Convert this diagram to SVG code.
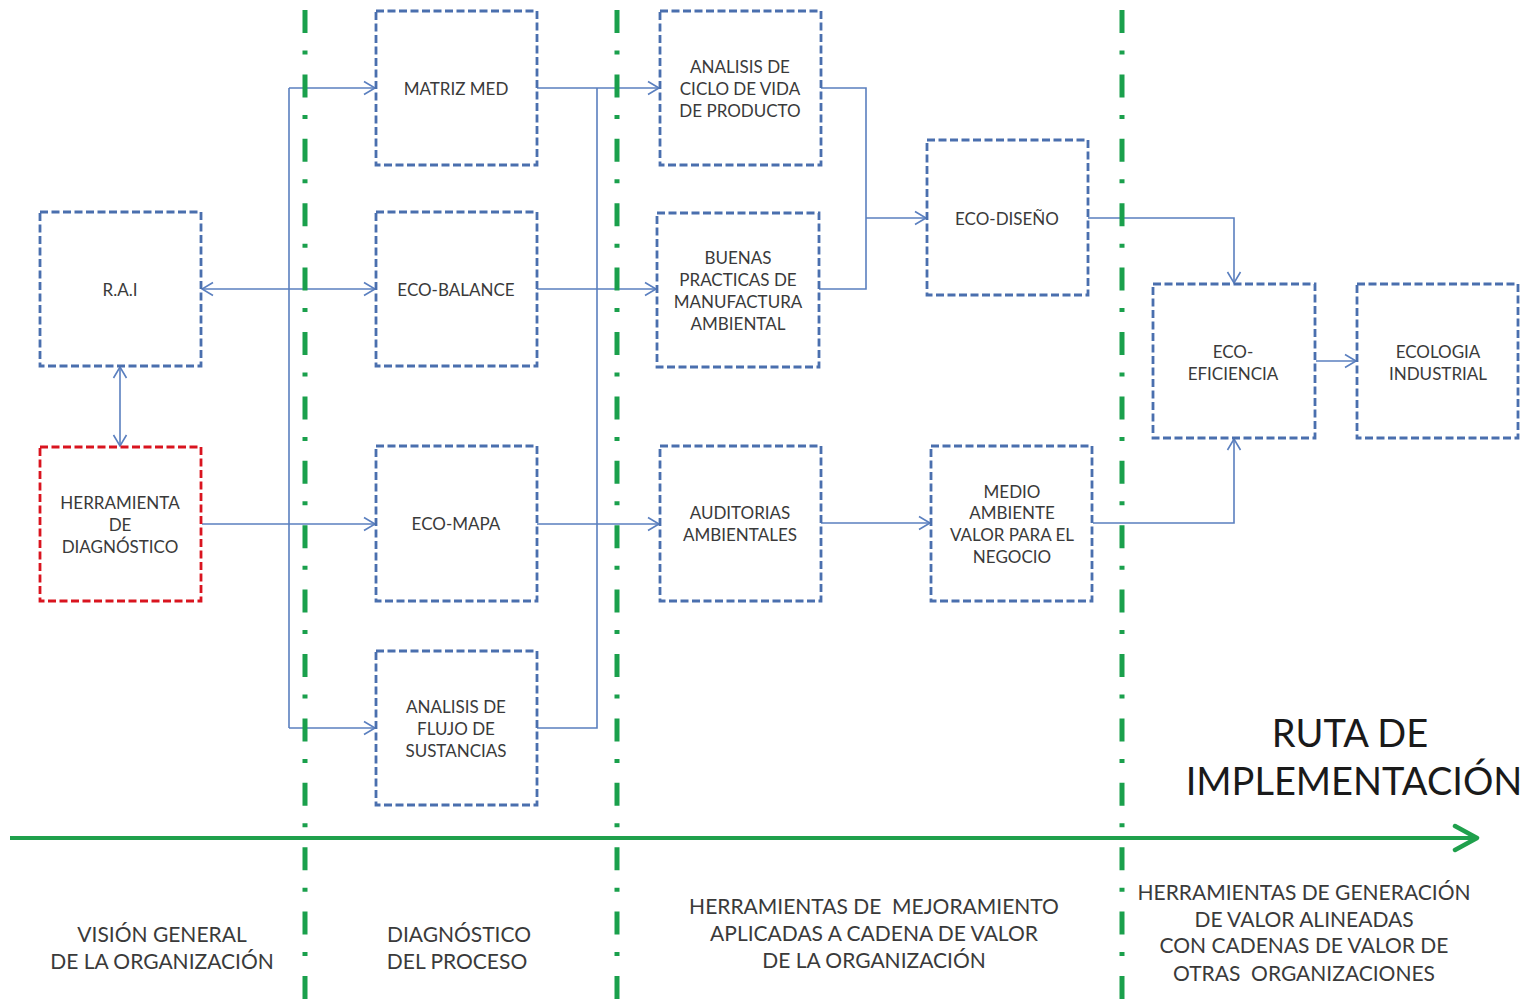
<svg xmlns="http://www.w3.org/2000/svg" width="1532" height="999" viewBox="0 0 1532 999">
<style>
.box{fill:#ffffff;stroke:#4a6fae;stroke-width:2.8;stroke-dasharray:8 3.5}
.red{stroke:#d9141f}
.lbl{font-family:Lato,"Open Sans",sans-serif;font-size:17px;fill:#3a3a3a;text-anchor:middle;dominant-baseline:central}
.cap{font-family:Lato,"Open Sans",sans-serif;font-size:21px;fill:#3a3a3a;text-anchor:middle}
.big{font-family:Lato,"Open Sans",sans-serif;font-size:38px;fill:#1a1a1a;text-anchor:middle}
.con{fill:none;stroke:#5a7fbf;stroke-width:1.6}
.sep{stroke:#1aa04c;stroke-width:5;stroke-dasharray:23 17.5 4 19.9;fill:none}
</style>
<defs>
<marker id="ah" markerUnits="userSpaceOnUse" markerWidth="14" markerHeight="16" viewBox="0 0 14 16" refX="12.5" refY="8" orient="auto-start-reverse">
<path d="M1.5,1.5 L12.5,8 L1.5,14.5" fill="none" stroke="#5a7fbf" stroke-width="1.6"/>
</marker>
<marker id="gh" markerUnits="userSpaceOnUse" markerWidth="30" markerHeight="30" viewBox="0 0 30 30" refX="25" refY="15" orient="auto">
<path d="M3,3 L25,15 L3,27" fill="none" stroke="#1fa04c" stroke-width="4.5" stroke-linecap="round" stroke-linejoin="round"/>
</marker>
</defs>
<rect width="1532" height="999" fill="#ffffff"/>

<g id="connectors">
<line class="con" x1="120" y1="367" x2="120" y2="446" marker-start="url(#ah)" marker-end="url(#ah)"/>
<line class="con" x1="202" y1="289" x2="375" y2="289" marker-start="url(#ah)" marker-end="url(#ah)"/>
<path class="con" d="M289,88 L289,728"/>
<line class="con" x1="289" y1="88" x2="375" y2="88" marker-end="url(#ah)"/>
<line class="con" x1="202" y1="524" x2="375" y2="524" marker-end="url(#ah)"/>
<line class="con" x1="289" y1="728" x2="375" y2="728" marker-end="url(#ah)"/>
<path class="con" d="M537,88 L597,88 M537,289 L597,289 M537,524 L597,524 M537,728 L597,728 L597,88"/>
<line class="con" x1="597" y1="88" x2="659" y2="88" marker-end="url(#ah)"/>
<line class="con" x1="597" y1="289" x2="656" y2="289" marker-end="url(#ah)"/>
<line class="con" x1="597" y1="524" x2="659" y2="524" marker-end="url(#ah)"/>
<path class="con" d="M821,88 L866,88 L866,289 L819,289"/>
<line class="con" x1="866" y1="218" x2="926" y2="218" marker-end="url(#ah)"/>
<line class="con" x1="821" y1="523" x2="930" y2="523" marker-end="url(#ah)"/>
<path class="con" d="M1088,218 L1234,218 L1234,283" marker-end="url(#ah)"/>
<path class="con" d="M1093,523 L1234,523 L1234,439" marker-end="url(#ah)"/>
<line class="con" x1="1316" y1="361" x2="1356" y2="361" marker-end="url(#ah)"/>
</g>

<g id="phases">
<line class="sep" x1="305" y1="10" x2="305" y2="999"/>
<line class="sep" x1="617" y1="10" x2="617" y2="999"/>
<line class="sep" x1="1122" y1="10" x2="1122" y2="999"/>
<line x1="10" y1="838" x2="1477" y2="838" stroke="#1fa04c" stroke-width="4" marker-end="url(#gh)"/>
</g>

<g id="rai">
<rect class="box" x="40" y="212" width="161" height="154"/>
<text class="lbl" x="120" y="289">R.A.I</text>
</g>
<g id="herramienta">
<rect class="box red" x="40" y="447" width="161" height="154"/>
<text class="lbl" x="120" y="502">HERRAMIENTA</text>
<text class="lbl" x="120" y="524">DE</text>
<text class="lbl" x="120" y="546">DIAGNÓSTICO</text>
</g>
<g id="matriz-med">
<rect class="box" x="376" y="11" width="161" height="154"/>
<text class="lbl" x="456" y="88">MATRIZ MED</text>
</g>
<g id="eco-balance">
<rect class="box" x="376" y="212" width="161" height="154"/>
<text class="lbl" x="456" y="289">ECO-BALANCE</text>
</g>
<g id="eco-mapa">
<rect class="box" x="376" y="446" width="161" height="155"/>
<text class="lbl" x="456" y="523">ECO-MAPA</text>
</g>
<g id="flujo">
<rect class="box" x="376" y="651" width="161" height="154"/>
<text class="lbl" x="456" y="706">ANALISIS DE</text>
<text class="lbl" x="456" y="728">FLUJO DE</text>
<text class="lbl" x="456" y="750">SUSTANCIAS</text>
</g>
<g id="ciclo-vida">
<rect class="box" x="660" y="11" width="161" height="154"/>
<text class="lbl" x="740" y="66">ANALISIS DE</text>
<text class="lbl" x="740" y="88">CICLO DE VIDA</text>
<text class="lbl" x="740" y="110">DE PRODUCTO</text>
</g>
<g id="buenas-practicas">
<rect class="box" x="657" y="213" width="162" height="154"/>
<text class="lbl" x="738" y="257">BUENAS</text>
<text class="lbl" x="738" y="279">PRACTICAS DE</text>
<text class="lbl" x="738" y="301">MANUFACTURA</text>
<text class="lbl" x="738" y="323">AMBIENTAL</text>
</g>
<g id="eco-diseno">
<rect class="box" x="927" y="140" width="161" height="155"/>
<text class="lbl" x="1007" y="218">ECO-DISEÑO</text>
</g>
<g id="auditorias">
<rect class="box" x="660" y="446" width="161" height="155"/>
<text class="lbl" x="740" y="512">AUDITORIAS</text>
<text class="lbl" x="740" y="534">AMBIENTALES</text>
</g>
<g id="medio-ambiente">
<rect class="box" x="931" y="446" width="161" height="155"/>
<text class="lbl" x="1012" y="491">MEDIO</text>
<text class="lbl" x="1012" y="512">AMBIENTE</text>
<text class="lbl" x="1012" y="534">VALOR PARA EL</text>
<text class="lbl" x="1012" y="556">NEGOCIO</text>
</g>
<g id="eco-eficiencia">
<rect class="box" x="1153" y="284" width="162" height="154"/>
<text class="lbl" x="1233" y="351">ECO-</text>
<text class="lbl" x="1233" y="373">EFICIENCIA</text>
</g>
<g id="ecologia">
<rect class="box" x="1357" y="284" width="161" height="154"/>
<text class="lbl" x="1438" y="351">ECOLOGIA</text>
<text class="lbl" x="1438" y="373">INDUSTRIAL</text>
</g>

<g id="titles">
<text class="big" x="1350" y="747">RUTA DE</text>
<text class="big" x="1354" y="795">IMPLEMENTACIÓN</text>
<text class="cap" x="162" y="942">VISIÓN GENERAL</text>
<text class="cap" x="162" y="969">DE LA ORGANIZACIÓN</text>
<text class="cap" x="459" y="942">DIAGNÓSTICO</text>
<text class="cap" x="457" y="969">DEL PROCESO</text>
<text class="cap" x="874" y="914" xml:space="preserve">HERRAMIENTAS DE  MEJORAMIENTO</text>
<text class="cap" x="874" y="941">APLICADAS A CADENA DE VALOR</text>
<text class="cap" x="874" y="968">DE LA ORGANIZACIÓN</text>
<text class="cap" x="1304" y="900">HERRAMIENTAS DE GENERACIÓN</text>
<text class="cap" x="1304" y="927">DE VALOR ALINEADAS</text>
<text class="cap" x="1304" y="953">CON CADENAS DE VALOR DE</text>
<text class="cap" x="1304" y="981" xml:space="preserve">OTRAS  ORGANIZACIONES</text>
</g>
</svg>
